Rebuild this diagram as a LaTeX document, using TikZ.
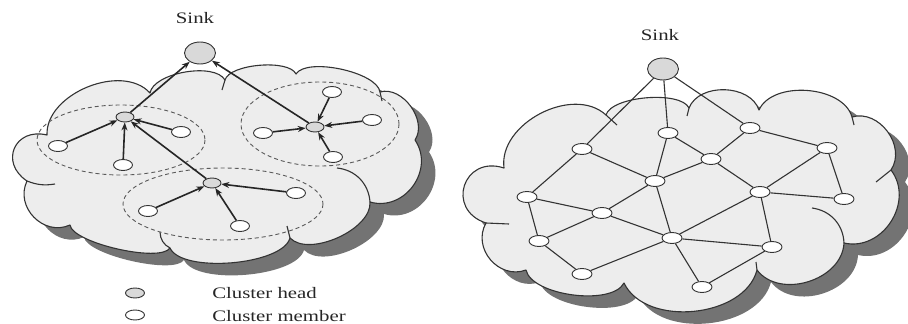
\documentclass[tikz,border=0pt]{standalone}
\usepackage{fontspec}
\setmainfont{Liberation Serif}
\usetikzlibrary{arrows.meta,shapes.geometric}
\definecolor{cloudfill}{HTML}{EDEDED}
\definecolor{cloudshade}{HTML}{737373}
\definecolor{headfill}{HTML}{D9D9D9}

\begin{document}
\begin{tikzpicture}[
    x=1pt, y=-1pt, line join=round,
    puff/.style={draw=black!80, line width=1.1pt},
    zone/.style={draw=black!65, line width=.9pt, dash pattern=on 4pt off 3pt},
    member/.style={ellipse, draw=black!80, fill=white, line width=.9pt, inner sep=0pt,
      minimum width=19pt, minimum height=11pt},
    head/.style={member, fill=headfill, minimum width=18pt, minimum height=10pt},
    sinknode/.style={member, fill=headfill, minimum width=31pt, minimum height=22pt},
    txt/.style={font=\fontsize{16}{18}\selectfont, text=black!85, xscale=1.3, inner sep=0pt},
    arr/.style={line width=1.6pt, draw=black!85, -{Stealth[length=8pt, width=6pt]}},
    link/.style={draw=black!80, line width=1.1pt}]
  \useasboundingbox (0,0) rectangle (908,324);

  % left cloud: shadow, then body
  \foreach \dx/\dy/\fc/\dc in {14/12/cloudshade/none, 0/0/cloudfill/black!80}
  \path[fill=\fc, draw=\dc, line width=1.1pt, shift={(\dx,\dy)}] (47,135)
    to[bend left=70, looseness=.95] (150,93)
    to[bend left=70, looseness=.7] (225,80)
    to[bend left=70, looseness=.6] (296,74)
    to[bend left=70, looseness=.6] (380,92)
    to[bend left=70, looseness=1] (415,140)
    to[bend left=70, looseness=1.2] (370,202)
    to[bend left=70, looseness=.8] (290,238)
    to[bend left=70, looseness=.6] (170,248)
    to[bend left=70, looseness=.45] (70,225)
    to[bend left=70, looseness=1.2] (27,181)
    to[bend left=80, looseness=1.7] (47,135) -- cycle;
  \path[puff] (225,80) -- (222,90) (380,92) -- (382,101)
    (337,168) to[bend left=40] (370,202) (287,226) -- (290,238)
    (160,232) to[bend right=30] (170,248) (27,181) to[bend right=15] (55,184);

  % right cloud
  \foreach \dx/\dy/\fc/\dc in {14/12/cloudshade/none, 0/0/cloudfill/black!80}
  \path[fill=\fc, draw=\dc, line width=1.1pt, shift={(\dx,\dy)}] (504,168)
    to[bend left=70, looseness=1] (606,115)
    to[bend left=70, looseness=.6] (689,108)
    to[bend left=70, looseness=1] (759,110)
    to[bend left=70, looseness=.9] (852,117)
    to[bend left=70, looseness=1.1] (891,170)
    to[bend left=70, looseness=1.17] (844,243)
    to[bend left=70, looseness=1.05] (757,270)
    to[bend left=70, looseness=.95] (624,283)
    to[bend left=70, looseness=.68] (526,270)
    to[bend left=70, looseness=1.2] (486,223)
    to[bend left=90, looseness=1.9] (504,168) -- cycle;
  \path[puff] (606,115) -- (617,125) (689,108) -- (687,116)
    (852,117) -- (854,125) (891,170) -- (876,182)
    (812,208) to[bend left=40] (844,243) (756,262) -- (757,270)
    (486,223) -- (509,224);

  % clusters
  \draw[zone] (121,140) ellipse [x radius=84, y radius=35];
  \draw[zone] (320,124) ellipse [x radius=79, y radius=42];
  \draw[zone] (223,204) ellipse [x radius=100, y radius=36];

  \node[sinknode] (sinkL) at (200,53) {};
  \node[txt] (sinkL-text) at (195,18) {Sink};
  \foreach \n/\x/\y in {hA/125/117, hB/315/127, hC/212/183}
  \node[head] (\n) at (\x,\y) {};
  \foreach \x/\y[count=\i] in {58/146, 123/165, 181/132}
  \node[member] (mA\i) at (\x,\y) {};
  \foreach \x/\y[count=\i] in {332/92, 372/120, 263/133, 333/157}
  \node[member] (mB\i) at (\x,\y) {};
  \foreach \x/\y[count=\i] in {148/211, 296/193, 240/226}
  \node[member] (mC\i) at (\x,\y) {};

  \foreach \i in {1,2,3} \draw[arr] (mA\i) -- (hA);
  \foreach \i in {1,...,4} \draw[arr] (mB\i) -- (hB);
  \foreach \i in {1,2,3} \draw[arr] (mC\i) -- (hC);
  \draw[arr] (hA) -- (sinkL);
  \draw[arr] (hB) -- (sinkL);
  \draw[arr] (hC) -- (hA);

  % legend
  \node[head, minimum width=19pt] (keyH) at (135,293) {};
  \node[member, minimum height=10pt] (keyM) at (135,315) {};
  \node[txt, anchor=west] (keyH-text) at (212,293) {Cluster head};
  \node[txt, anchor=west] (keyM-text) at (212,316) {Cluster member};

  % flat network
  \node[sinknode] (sinkR) at (663,69) {};
  \node[txt] (sinkR-text) at (660,35) {Sink};
  \foreach \x/\y[count=\i] in {582/149, 668/133, 750/128, 827/148, 711/159,
    655/181, 527/197, 602/213, 760/192, 844/199, 539/241, 672/238, 772/247,
    582/274, 702/287}
  \node[member, minimum width=20pt] (n\i) at (\x,\y) {};

  \foreach \a/\b in {sinkR/n1, sinkR/n2, sinkR/n3, n1/n7, n1/n6, n2/n6, n2/n5,
    n3/n5, n3/n4, n4/n9, n4/n10, n5/n6, n5/n9, n6/n8, n6/n12, n7/n8, n7/n11,
    n8/n11, n8/n12, n9/n10, n9/n12, n9/n13, n12/n13, n12/n14, n12/n15,
    n11/n14, n13/n15}
  \draw[link] (\a) -- (\b);
\end{tikzpicture}
\end{document}
